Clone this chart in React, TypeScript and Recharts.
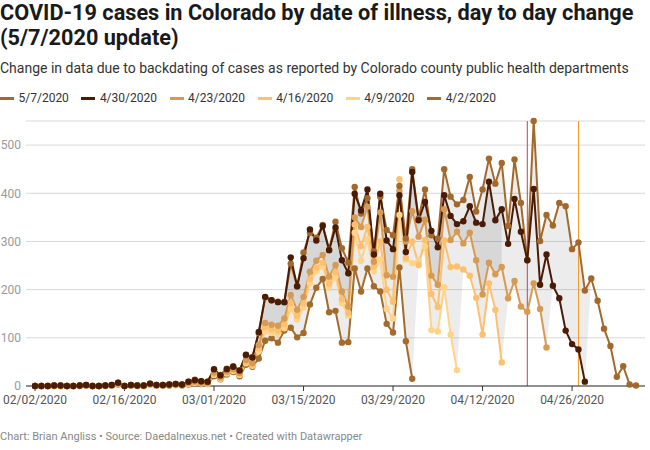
import React from 'react'
import {
  ComposedChart,
  Line,
  Area,
  XAxis,
  YAxis,
  CartesianGrid,
  ReferenceLine,
} from 'recharts'

// day index 0 = 02/02/2020
const tickDays = [0, 14, 28, 42, 56, 70, 84]
const tickLabels = ['02/02/2020', '02/16/2020', '03/01/2020', '03/15/2020', '03/29/2020', '04/12/2020', '04/26/2020']
const yTicks = [0, 100, 200, 300, 400, 500]

// update markers (day index)
const markerDays = [77, 85]
const markerColors = ['#c4434f', '#f39a1e']

const may7 = [
  0, 0, 0, 1, 1, 0, 0, 1, 2, 0, 0, 1, 2, 7, 0, 2, 1, 1, 5, 2, 2, 3, 4, 3, 9, 13, 10, 9,
  34, 23, 36, 41, 33, 64, 60, 110, 184, 178, 175, 174, 254, 207, 277, 318, 308, 334, 283, 341, 286, 256,
  413, 358, 390, 279, 393, 324, 313, 415, 306, 450, 348, 408, 313, 306, 450, 393, 377,
  386, 434, 362, 408, 472, 420, 463, 332, 470, 380, 261, 550, 301, 355, 333, 380, 373, 284, 298, 198, 223, 177, 119, 83, 19, 41, 3, 1,
]
const apr30 = [
  0, 0, 0, 1, 1, 0, 0, 1, 2, 0, 0, 1, 2, 7, 0, 2, 1, 1, 5, 2, 2, 3, 4, 3, 9, 12, 10, 9,
  35, 22, 35, 40, 32, 65, 59, 112, 185, 178, 174, 174, 267, 207, 265, 325, 302, 332, 282, 329, 261, 234,
  399, 364, 408, 273, 399, 302, 284, 396, 278, 444, 344, 382, 322, 288, 396, 353, 336,
  342, 373, 339, 336, 424, 344, 367, 295, 388, 320, 261, 409, 210, 273, 208, 182, 115, 87, 76, 9,
]
const apr23 = [
  0, 0, 0, 1, 0, 0, 0, 1, 1, 0, 0, 1, 1, 5, 0, 1, 1, 1, 4, 2, 1, 2, 3, 2, 6, 9, 7, 6,
  28, 18, 30, 35, 27, 54, 47, 85, 131, 127, 125, 140, 189, 158, 185, 237, 260, 272, 227, 251, 196, 165,
  350, 330, 372, 258, 360, 230, 227, 405, 300, 363, 310, 345, 229, 210, 367, 303, 320,
  296, 318, 261, 190, 256, 232, 247, 182, 218, 165, 154, 213, 160, 80,
]
const apr16 = [
  0, 0, 0, 0, 0, 0, 0, 1, 1, 0, 0, 1, 1, 4, 0, 1, 1, 0, 4, 1, 1, 2, 2, 2, 5, 7, 6, 5,
  25, 17, 28, 33, 25, 50, 44, 78, 122, 118, 115, 128, 172, 146, 172, 222, 246, 256, 212, 236, 180, 152,
  335, 290, 330, 248, 300, 200, 175, 429, 266, 300, 251, 303, 191, 164, 302, 247, 248,
  242, 229, 183, 107, 213, 158, 49,
]
const apr9 = [
  0, 0, 0, 0, 0, 0, 0, 0, 1, 0, 0, 1, 1, 4, 0, 1, 0, 0, 3, 1, 1, 2, 2, 2, 4, 6, 5, 4,
  23, 15, 26, 31, 23, 47, 42, 72, 113, 110, 108, 120, 160, 138, 163, 214, 238, 248, 204, 226, 172, 146,
  318, 260, 305, 238, 262, 160, 140, 355, 262, 255, 260, 290, 116, 113, 205, 107, 33,
]
const apr2 = [
  0, 0, 0, 0, 0, 0, 0, 0, 1, 0, 0, 0, 1, 3, 0, 1, 0, 0, 3, 1, 1, 1, 2, 1, 3, 5, 4, 4,
  20, 14, 24, 29, 20, 44, 40, 57, 94, 99, 90, 115, 121, 101, 110, 169, 204, 222, 153, 156, 90, 91,
  244, 196, 244, 207, 196, 129, 111, 246, 93, 15,
]

const series = [
  { key: 'may7', name: '5/7/2020', color: '#a3692b', values: may7 },
  { key: 'apr30', name: '4/30/2020', color: '#4a1b05', values: apr30 },
  { key: 'apr23', name: '4/23/2020', color: '#d79a52', values: apr23 },
  { key: 'apr16', name: '4/16/2020', color: '#fcc06e', values: apr16 },
  { key: 'apr9', name: '4/9/2020', color: '#ffd388', values: apr9 },
  { key: 'apr2', name: '4/2/2020', color: '#a36b2c', values: apr2 },
]

const rows = may7.map((_, day) => {
  const row: Record<string, any> = { day }
  const present: number[] = []
  series.forEach((s) => {
    const v = s.values[day]
    row[s.key] = v === undefined ? null : v
    if (v !== undefined) present.push(v)
  })
  row.band = [Math.min(...present), Math.max(...present)]
  row.mid = apr16[day] !== undefined ? [apr23[day], apr30[day]] : null
  return row
})

const drawOrder = ['apr2', 'apr9', 'apr16', 'apr23', 'may7', 'apr30']
const font = 'Roboto, sans-serif'

export default function App() {
  return (
    <div style={{ position: 'absolute', left: 0, top: 0, width: 650, height: 450, background: '#fff', fontFamily: font, color: '#222' }}>
      <div style={{ position: 'absolute', left: 0, top: 0, width: 650, fontSize: 21.7, fontWeight: 700, lineHeight: '25px', color: '#1a1a1a' }}>
        COVID-19 cases in Colorado by date of illness, day to day change (5/7/2020 update)
      </div>
      <div style={{ position: 'absolute', left: 0, top: 59, fontSize: 14, lineHeight: '18px', color: '#333', whiteSpace: 'nowrap' }}>
        Change in data due to backdating of cases as reported by Colorado county public health departments
      </div>
      <div style={{ position: 'absolute', left: 0, top: 90, display: 'flex', gap: 12.5, fontSize: 12, lineHeight: '16px', color: '#333' }}>
        {series.map((s) => (
          <div key={s.key} style={{ display: 'flex', alignItems: 'center' }}>
            <span style={{ display: 'inline-block', width: 14, height: 3, background: s.color, marginRight: 4.5 }} />
            <span>{s.name}</span>
          </div>
        ))}
      </div>
      <div style={{ position: 'absolute', left: 0, top: 430, fontSize: 11, lineHeight: '14px', color: '#888' }}>
        Chart: Brian Angliss • Source: Daedalnexus.net • Created with Datawrapper
      </div>
      <div style={{ position: 'absolute', left: 0, top: 0 }}>
        <ComposedChart width={650} height={450} data={rows} margin={{ top: 121, right: 5, bottom: 34, left: 0 }}>
          <CartesianGrid vertical={false} stroke="#d9d9d9" />
          <XAxis
            type="number"
            dataKey="day"
            domain={[0, 94]}
            ticks={tickDays}
            interval={0}
            tickFormatter={(d: number) => tickLabels[tickDays.indexOf(d)]}
            padding={{ left: 9, right: 9 }}
            axisLine={{ stroke: '#333' }}
            tickLine={{ stroke: '#333' }}
            tickSize={5}
            tickMargin={4}
            height={30}
            tick={{ fill: '#555', fontSize: 12, fontFamily: font }}
          />
          <YAxis
            domain={[0, 550]}
            ticks={yTicks}
            axisLine={false}
            tickLine={false}
            tickSize={0}
            tickMargin={5}
            width={26}
            tick={{ fill: '#999', fontSize: 12, fontFamily: font }}
          />
          <Area dataKey="band" type="linear" stroke="none" fill="#000" fillOpacity={0.075} isAnimationActive={false} dot={false} activeDot={false} />
          <Area dataKey="mid" type="linear" stroke="none" fill="#000" fillOpacity={0.085} isAnimationActive={false} dot={false} activeDot={false} />
          {markerDays.map((d, i) => (
            <ReferenceLine key={d} x={d} stroke={markerColors[i]} strokeWidth={1} />
          ))}
          {drawOrder.map((k) => {
            const s = series.find((x) => x.key === k)!
            return (
              <Line
                key={s.key}
                dataKey={s.key}
                name={s.name}
                type="linear"
                stroke={s.color}
                strokeWidth={2}
                dot={{ r: 3.2, fill: s.color, stroke: s.color, strokeWidth: 0 }}
                activeDot={false}
                isAnimationActive={false}
              />
            )
          })}
        </ComposedChart>
      </div>
    </div>
  )
}
